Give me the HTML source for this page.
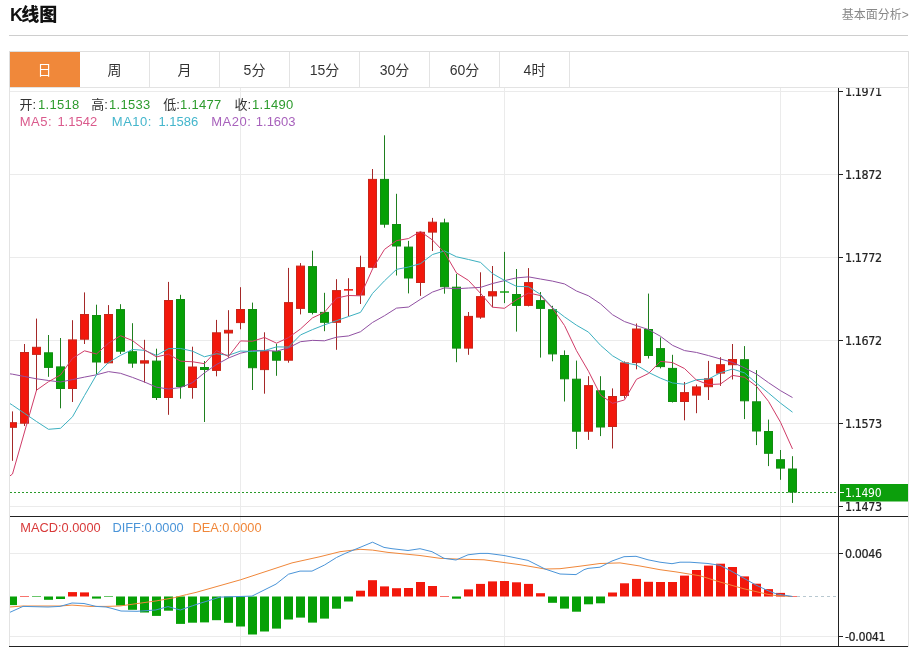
<!DOCTYPE html>
<html><head><meta charset="utf-8"><title>K线图</title>
<style>
*{margin:0;padding:0;box-sizing:border-box}
html,body{width:914px;height:647px;overflow:hidden;background:#fff}
body{position:relative;font-family:"Liberation Sans","Noto Sans CJK SC",sans-serif;color:#333}
.t{position:absolute;white-space:nowrap}
#title{left:10px;top:3px;font-size:18px;font-weight:900;color:#111;line-height:24px}
#more{right:5.2px;top:6px;font-size:12px;color:#888;line-height:18px}
#hr{position:absolute;left:9px;top:35px;width:899px;height:1px;background:#cecece}
#tabs{position:absolute;left:9px;top:51px;width:900px;height:37px;border:1px solid #dedede}
.tab{position:absolute;top:0;height:35px;width:70px;border-right:1px solid #e3e3e3;text-align:center;font-size:14px;line-height:37px;color:#333}
.tab.on{background:#f0883a;color:#fff;border-right-color:#f0883a}
#chart{position:absolute;left:9px;top:87px;width:900px;height:560px;border:1px solid #e3e3e3;border-bottom:none}
svg{position:absolute;left:0;top:0}
.info{position:absolute;font-size:13px;line-height:16px}
.k{color:#333} .v{color:#2d9b2d;letter-spacing:0.3px} .m{letter-spacing:0.5px}
</style></head><body>
<div class="t" id="title"><span style="margin-right:-1.8px">K</span>线图</div>
<div class="t" id="more">基本面分析&gt;</div>
<div id="hr"></div>
<div id="tabs">
<div class="tab on" style="left:0">日</div>
<div class="tab" style="left:70px">周</div>
<div class="tab" style="left:140px">月</div>
<div class="tab" style="left:210px">5分</div>
<div class="tab" style="left:280px">15分</div>
<div class="tab" style="left:350px">30分</div>
<div class="tab" style="left:420px">60分</div>
<div class="tab" style="left:490px">4时</div>
</div>
<div id="chart"></div>
<svg width="914" height="647" viewBox="0 0 914 647">
<g stroke="#ebebeb" stroke-width="1" fill="none">
<line x1="10" y1="91.5" x2="838" y2="91.5"/>
<line x1="10" y1="174.5" x2="838" y2="174.5"/>
<line x1="10" y1="257.5" x2="838" y2="257.5"/>
<line x1="10" y1="340.5" x2="838" y2="340.5"/>
<line x1="10" y1="423.5" x2="838" y2="423.5"/>
<line x1="10" y1="506.5" x2="838" y2="506.5"/>
<line x1="10" y1="553.5" x2="838" y2="553.5"/>
<line x1="10" y1="636.5" x2="838" y2="636.5"/>
<line x1="240.5" y1="88" x2="240.5" y2="646"/>
<line x1="504.5" y1="88" x2="504.5" y2="646"/>
<line x1="780.5" y1="88" x2="780.5" y2="646"/>
</g>
<clipPath id="cm"><rect x="10" y="88" width="828" height="428"/></clipPath>
<clipPath id="cd"><rect x="10" y="517" width="828" height="129"/></clipPath>
<g clip-path="url(#cm)">
<line x1="12.5" y1="411.4" x2="12.5" y2="460.8" stroke="#a42828" stroke-width="1"/>
<rect x="8.5" y="422.7" width="8" height="4.6" fill="#f2180c" stroke="#c8261a" stroke-width="1"/>
<line x1="24.5" y1="344" x2="24.5" y2="426" stroke="#a42828" stroke-width="1"/>
<rect x="20.5" y="352.5" width="8" height="70.7" fill="#f2180c" stroke="#c8261a" stroke-width="1"/>
<line x1="36.5" y1="318.6" x2="36.5" y2="391" stroke="#a42828" stroke-width="1"/>
<rect x="32.5" y="347.3" width="8" height="7.1" fill="#f2180c" stroke="#c8261a" stroke-width="1"/>
<line x1="48.5" y1="335" x2="48.5" y2="376.8" stroke="#1f7f1f" stroke-width="1"/>
<rect x="44.5" y="352.8" width="8" height="14.6" fill="#06a006" stroke="#128c12" stroke-width="1"/>
<line x1="60.5" y1="338" x2="60.5" y2="408.3" stroke="#1f7f1f" stroke-width="1"/>
<rect x="56.5" y="366.9" width="8" height="21.6" fill="#06a006" stroke="#128c12" stroke-width="1"/>
<line x1="72.5" y1="320.2" x2="72.5" y2="402" stroke="#a42828" stroke-width="1"/>
<rect x="68.5" y="339.9" width="8" height="48.6" fill="#f2180c" stroke="#c8261a" stroke-width="1"/>
<line x1="84.5" y1="292.4" x2="84.5" y2="344" stroke="#a42828" stroke-width="1"/>
<rect x="80.5" y="314.5" width="8" height="24.7" fill="#f2180c" stroke="#c8261a" stroke-width="1"/>
<line x1="96.5" y1="304.7" x2="96.5" y2="374.3" stroke="#1f7f1f" stroke-width="1"/>
<rect x="92.5" y="315.5" width="8" height="46.5" fill="#06a006" stroke="#128c12" stroke-width="1"/>
<line x1="108.5" y1="305.1" x2="108.5" y2="363.3" stroke="#a42828" stroke-width="1"/>
<rect x="104.5" y="314.5" width="8" height="48.3" fill="#f2180c" stroke="#c8261a" stroke-width="1"/>
<line x1="120.5" y1="304.2" x2="120.5" y2="354" stroke="#1f7f1f" stroke-width="1"/>
<rect x="116.5" y="309.6" width="8" height="41.6" fill="#06a006" stroke="#128c12" stroke-width="1"/>
<line x1="132.5" y1="323.2" x2="132.5" y2="367.8" stroke="#1f7f1f" stroke-width="1"/>
<rect x="128.5" y="351.7" width="8" height="11.4" fill="#06a006" stroke="#128c12" stroke-width="1"/>
<line x1="144.5" y1="339.8" x2="144.5" y2="382.6" stroke="#a42828" stroke-width="1"/>
<rect x="140.5" y="360.8" width="8" height="2.3" fill="#f2180c" stroke="#c8261a" stroke-width="1"/>
<line x1="156.5" y1="348.7" x2="156.5" y2="400" stroke="#1f7f1f" stroke-width="1"/>
<rect x="152.5" y="361.1" width="8" height="36.4" fill="#06a006" stroke="#128c12" stroke-width="1"/>
<line x1="168.5" y1="281.9" x2="168.5" y2="414.8" stroke="#a42828" stroke-width="1"/>
<rect x="164.5" y="300.5" width="8" height="97" fill="#f2180c" stroke="#c8261a" stroke-width="1"/>
<line x1="180.5" y1="294.8" x2="180.5" y2="398.7" stroke="#1f7f1f" stroke-width="1"/>
<rect x="176.5" y="299.5" width="8" height="87" fill="#06a006" stroke="#128c12" stroke-width="1"/>
<line x1="192.5" y1="346.7" x2="192.5" y2="398.7" stroke="#a42828" stroke-width="1"/>
<rect x="188.5" y="367" width="8" height="20.5" fill="#f2180c" stroke="#c8261a" stroke-width="1"/>
<line x1="204.5" y1="361" x2="204.5" y2="422" stroke="#1f7f1f" stroke-width="1"/>
<rect x="200.5" y="367.5" width="8" height="2" fill="#06a006" stroke="#128c12" stroke-width="1"/>
<line x1="216.5" y1="319.9" x2="216.5" y2="376.3" stroke="#a42828" stroke-width="1"/>
<rect x="212.5" y="332.8" width="8" height="37.6" fill="#f2180c" stroke="#c8261a" stroke-width="1"/>
<line x1="228.5" y1="310.2" x2="228.5" y2="357.8" stroke="#a42828" stroke-width="1"/>
<rect x="224.5" y="330.3" width="8" height="2.7" fill="#f2180c" stroke="#c8261a" stroke-width="1"/>
<line x1="240.5" y1="287.2" x2="240.5" y2="329.3" stroke="#a42828" stroke-width="1"/>
<rect x="236.5" y="309.5" width="8" height="13.1" fill="#f2180c" stroke="#c8261a" stroke-width="1"/>
<line x1="252.5" y1="302.6" x2="252.5" y2="390" stroke="#1f7f1f" stroke-width="1"/>
<rect x="248.5" y="309.5" width="8" height="58.2" fill="#06a006" stroke="#128c12" stroke-width="1"/>
<line x1="264.5" y1="332.3" x2="264.5" y2="393.7" stroke="#a42828" stroke-width="1"/>
<rect x="260.5" y="351.6" width="8" height="18" fill="#f2180c" stroke="#c8261a" stroke-width="1"/>
<line x1="276.5" y1="343.7" x2="276.5" y2="375.8" stroke="#1f7f1f" stroke-width="1"/>
<rect x="272.5" y="351.6" width="8" height="8.6" fill="#06a006" stroke="#128c12" stroke-width="1"/>
<line x1="288.5" y1="267.9" x2="288.5" y2="362.7" stroke="#a42828" stroke-width="1"/>
<rect x="284.5" y="302.6" width="8" height="57.6" fill="#f2180c" stroke="#c8261a" stroke-width="1"/>
<line x1="300.5" y1="263.1" x2="300.5" y2="314.4" stroke="#a42828" stroke-width="1"/>
<rect x="296.5" y="266.1" width="8" height="42.3" fill="#f2180c" stroke="#c8261a" stroke-width="1"/>
<line x1="312.5" y1="250.7" x2="312.5" y2="314.4" stroke="#1f7f1f" stroke-width="1"/>
<rect x="308.5" y="266.6" width="8" height="45.8" fill="#06a006" stroke="#128c12" stroke-width="1"/>
<line x1="324.5" y1="292.8" x2="324.5" y2="331.2" stroke="#1f7f1f" stroke-width="1"/>
<rect x="320.5" y="312.4" width="8" height="9.9" fill="#06a006" stroke="#128c12" stroke-width="1"/>
<line x1="336.5" y1="279.2" x2="336.5" y2="349.8" stroke="#a42828" stroke-width="1"/>
<rect x="332.5" y="290.6" width="8" height="31.7" fill="#f2180c" stroke="#c8261a" stroke-width="1"/>
<line x1="348.5" y1="278.2" x2="348.5" y2="316.3" stroke="#a42828" stroke-width="1"/>
<rect x="344" y="289.1" width="9" height="1.5" fill="#f2180c"/>
<line x1="360.5" y1="255.7" x2="360.5" y2="304" stroke="#a42828" stroke-width="1"/>
<rect x="356.5" y="267.6" width="8" height="27.4" fill="#f2180c" stroke="#c8261a" stroke-width="1"/>
<line x1="372.5" y1="169" x2="372.5" y2="267.8" stroke="#a42828" stroke-width="1"/>
<rect x="368.5" y="179.4" width="8" height="87.9" fill="#f2180c" stroke="#c8261a" stroke-width="1"/>
<line x1="384.5" y1="135.3" x2="384.5" y2="227.7" stroke="#1f7f1f" stroke-width="1"/>
<rect x="380.5" y="179.4" width="8" height="44.8" fill="#06a006" stroke="#128c12" stroke-width="1"/>
<line x1="396.5" y1="193.8" x2="396.5" y2="275.5" stroke="#1f7f1f" stroke-width="1"/>
<rect x="392.5" y="224.5" width="8" height="21.5" fill="#06a006" stroke="#128c12" stroke-width="1"/>
<line x1="408.5" y1="240.9" x2="408.5" y2="293.4" stroke="#1f7f1f" stroke-width="1"/>
<rect x="404.5" y="247.1" width="8" height="30.9" fill="#06a006" stroke="#128c12" stroke-width="1"/>
<line x1="420.5" y1="231.8" x2="420.5" y2="295.9" stroke="#a42828" stroke-width="1"/>
<rect x="416.5" y="232.3" width="8" height="50.2" fill="#f2180c" stroke="#c8261a" stroke-width="1"/>
<line x1="432.5" y1="217.9" x2="432.5" y2="251" stroke="#a42828" stroke-width="1"/>
<rect x="428.5" y="222.2" width="8" height="9.9" fill="#f2180c" stroke="#c8261a" stroke-width="1"/>
<line x1="444.5" y1="218.7" x2="444.5" y2="293.7" stroke="#1f7f1f" stroke-width="1"/>
<rect x="440.5" y="222.9" width="8" height="63.8" fill="#06a006" stroke="#128c12" stroke-width="1"/>
<line x1="456.5" y1="273.9" x2="456.5" y2="362.2" stroke="#1f7f1f" stroke-width="1"/>
<rect x="452.5" y="287.2" width="8" height="60.9" fill="#06a006" stroke="#128c12" stroke-width="1"/>
<line x1="468.5" y1="312" x2="468.5" y2="354.8" stroke="#a42828" stroke-width="1"/>
<rect x="464.5" y="316.4" width="8" height="31.7" fill="#f2180c" stroke="#c8261a" stroke-width="1"/>
<line x1="480.5" y1="272.3" x2="480.5" y2="318.8" stroke="#a42828" stroke-width="1"/>
<rect x="476.5" y="296.6" width="8" height="20.5" fill="#f2180c" stroke="#c8261a" stroke-width="1"/>
<line x1="492.5" y1="266" x2="492.5" y2="307.3" stroke="#a42828" stroke-width="1"/>
<rect x="488.5" y="291.7" width="8" height="4.2" fill="#f2180c" stroke="#c8261a" stroke-width="1"/>
<line x1="504.5" y1="251.9" x2="504.5" y2="303.1" stroke="#1f7f1f" stroke-width="1"/>
<rect x="500" y="291.3" width="9" height="1.4" fill="#06a006"/>
<line x1="516.5" y1="269" x2="516.5" y2="331.6" stroke="#1f7f1f" stroke-width="1"/>
<rect x="512.5" y="294.5" width="8" height="10.9" fill="#06a006" stroke="#128c12" stroke-width="1"/>
<line x1="528.5" y1="268.1" x2="528.5" y2="306.4" stroke="#a42828" stroke-width="1"/>
<rect x="524.5" y="282.6" width="8" height="22.8" fill="#f2180c" stroke="#c8261a" stroke-width="1"/>
<line x1="540.5" y1="292" x2="540.5" y2="357.6" stroke="#1f7f1f" stroke-width="1"/>
<rect x="536.5" y="300.6" width="8" height="7.8" fill="#06a006" stroke="#128c12" stroke-width="1"/>
<line x1="552.5" y1="305.8" x2="552.5" y2="361.3" stroke="#1f7f1f" stroke-width="1"/>
<rect x="548.5" y="309.7" width="8" height="44.2" fill="#06a006" stroke="#128c12" stroke-width="1"/>
<line x1="564.5" y1="350.4" x2="564.5" y2="401.5" stroke="#1f7f1f" stroke-width="1"/>
<rect x="560.5" y="355.5" width="8" height="23.3" fill="#06a006" stroke="#128c12" stroke-width="1"/>
<line x1="576.5" y1="360.6" x2="576.5" y2="449" stroke="#1f7f1f" stroke-width="1"/>
<rect x="572.5" y="379.2" width="8" height="52" fill="#06a006" stroke="#128c12" stroke-width="1"/>
<line x1="588.5" y1="376.2" x2="588.5" y2="439.9" stroke="#a42828" stroke-width="1"/>
<rect x="584.5" y="385.6" width="8" height="45.6" fill="#f2180c" stroke="#c8261a" stroke-width="1"/>
<line x1="600.5" y1="376.2" x2="600.5" y2="436.1" stroke="#1f7f1f" stroke-width="1"/>
<rect x="596.5" y="390.8" width="8" height="36.2" fill="#06a006" stroke="#128c12" stroke-width="1"/>
<line x1="612.5" y1="388.4" x2="612.5" y2="448.5" stroke="#a42828" stroke-width="1"/>
<rect x="608.5" y="396.5" width="8" height="30" fill="#f2180c" stroke="#c8261a" stroke-width="1"/>
<line x1="624.5" y1="361.4" x2="624.5" y2="398.5" stroke="#a42828" stroke-width="1"/>
<rect x="620.5" y="362.9" width="8" height="32.6" fill="#f2180c" stroke="#c8261a" stroke-width="1"/>
<line x1="636.5" y1="323.5" x2="636.5" y2="369.3" stroke="#a42828" stroke-width="1"/>
<rect x="632.5" y="329" width="8" height="33.6" fill="#f2180c" stroke="#c8261a" stroke-width="1"/>
<line x1="648.5" y1="293.6" x2="648.5" y2="358.5" stroke="#1f7f1f" stroke-width="1"/>
<rect x="644.5" y="329.5" width="8" height="26" fill="#06a006" stroke="#128c12" stroke-width="1"/>
<line x1="660.5" y1="337.4" x2="660.5" y2="368.4" stroke="#1f7f1f" stroke-width="1"/>
<rect x="656.5" y="348.6" width="8" height="18" fill="#06a006" stroke="#128c12" stroke-width="1"/>
<line x1="672.5" y1="354.8" x2="672.5" y2="402.5" stroke="#1f7f1f" stroke-width="1"/>
<rect x="668.5" y="368.4" width="8" height="33.1" fill="#06a006" stroke="#128c12" stroke-width="1"/>
<line x1="684.5" y1="382" x2="684.5" y2="420.3" stroke="#a42828" stroke-width="1"/>
<rect x="680.5" y="392.6" width="8" height="8.9" fill="#f2180c" stroke="#c8261a" stroke-width="1"/>
<line x1="696.5" y1="384.5" x2="696.5" y2="413.2" stroke="#a42828" stroke-width="1"/>
<rect x="692.5" y="386.9" width="8" height="8.2" fill="#f2180c" stroke="#c8261a" stroke-width="1"/>
<line x1="708.5" y1="360.9" x2="708.5" y2="400" stroke="#a42828" stroke-width="1"/>
<rect x="704.5" y="378.8" width="8" height="7.9" fill="#f2180c" stroke="#c8261a" stroke-width="1"/>
<line x1="720.5" y1="357.2" x2="720.5" y2="385.9" stroke="#a42828" stroke-width="1"/>
<rect x="716.5" y="364.7" width="8" height="8.4" fill="#f2180c" stroke="#c8261a" stroke-width="1"/>
<line x1="732.5" y1="344" x2="732.5" y2="379.5" stroke="#a42828" stroke-width="1"/>
<rect x="728.5" y="359.5" width="8" height="5.2" fill="#f2180c" stroke="#c8261a" stroke-width="1"/>
<line x1="744.5" y1="346.1" x2="744.5" y2="419.1" stroke="#1f7f1f" stroke-width="1"/>
<rect x="740.5" y="359.7" width="8" height="41.1" fill="#06a006" stroke="#128c12" stroke-width="1"/>
<line x1="756.5" y1="370.1" x2="756.5" y2="445.1" stroke="#1f7f1f" stroke-width="1"/>
<rect x="752.5" y="401.8" width="8" height="29.2" fill="#06a006" stroke="#128c12" stroke-width="1"/>
<line x1="768.5" y1="419.6" x2="768.5" y2="466.1" stroke="#1f7f1f" stroke-width="1"/>
<rect x="764.5" y="431.5" width="8" height="21.8" fill="#06a006" stroke="#128c12" stroke-width="1"/>
<line x1="780.5" y1="450" x2="780.5" y2="479.8" stroke="#1f7f1f" stroke-width="1"/>
<rect x="776.5" y="459.7" width="8" height="8.4" fill="#06a006" stroke="#128c12" stroke-width="1"/>
<line x1="792.5" y1="456.2" x2="792.5" y2="502.9" stroke="#1f7f1f" stroke-width="1"/>
<rect x="788.5" y="469" width="8" height="23" fill="#06a006" stroke="#128c12" stroke-width="1"/>
<polyline points="0.5,372.5 12.5,374.2 24.5,376.5 36.5,378.8 48.5,380.5 60.5,382 72.5,379.6 84.5,377.1 96.5,374.8 108.5,371.6 120.5,373.3 132.5,377.4 144.5,382 156.5,387.2 168.5,389 180.5,387.6 192.5,382.6 204.5,372.8 216.5,364.5 228.5,358 240.5,353.2 252.5,350.5 264.5,350.45 276.5,351.15 288.5,347.86 300.5,341.69 312.5,340.37 324.5,340.81 336.5,337.18 348.5,335.94 360.5,331.71 372.5,322.47 384.5,315.69 396.5,308.12 408.5,307.05 420.5,299.28 432.5,292.05 444.5,287.9 456.5,288.72 468.5,288.02 480.5,287.38 492.5,283.53 504.5,280.61 516.5,277.87 528.5,276.87 540.5,279.03 552.5,281.11 564.5,283.93 576.5,291.01 588.5,295.81 600.5,303.83 612.5,314.69 624.5,321.57 636.5,325.67 648.5,329.55 660.5,336.31 672.5,345.33 684.5,350.57 696.5,352.46 708.5,355.58 720.5,358.99 732.5,362.38 744.5,367.81 756.5,374.09 768.5,382.67 780.5,390.66 792.5,397.56" fill="none" stroke="#9050a2" stroke-width="1" stroke-linejoin="round"/>
<polyline points="0.5,397.5 12.5,405.2 24.5,413.3 36.5,421.5 48.5,429.3 60.5,428.3 72.5,416.8 84.5,395.5 96.5,374.8 108.5,362.5 120.5,355.35 132.5,349.49 144.5,350.32 156.5,355.44 168.5,348.65 180.5,348.45 192.5,351.16 204.5,356.76 216.5,353.74 228.5,355.32 240.5,351.05 252.5,351.51 264.5,350.59 276.5,346.86 288.5,347.07 300.5,334.93 312.5,329.57 324.5,324.85 336.5,320.63 348.5,316.56 360.5,312.37 372.5,293.44 384.5,280.8 396.5,269.38 408.5,267.02 420.5,263.64 432.5,254.52 444.5,250.96 456.5,256.81 468.5,259.49 480.5,262.39 492.5,273.62 504.5,280.42 516.5,286.36 528.5,286.72 540.5,294.43 552.5,307.7 564.5,316.91 576.5,325.22 588.5,332.14 600.5,345.28 612.5,355.76 624.5,362.73 636.5,364.99 648.5,372.38 660.5,378.2 672.5,382.96 684.5,384.24 696.5,379.71 708.5,379.03 720.5,372.7 732.5,369 744.5,372.89 756.5,383.19 768.5,392.97 780.5,403.12 792.5,412.17" fill="none" stroke="#3cb0c0" stroke-width="1" stroke-linejoin="round"/>
<polyline points="0.5,483 12.5,474 24.5,432 36.5,390.2 48.5,381.7 60.5,374.98 72.5,358.42 84.5,350.82 96.5,353.96 108.5,343.18 120.5,335.72 132.5,340.56 144.5,349.82 156.5,356.92 168.5,354.12 180.5,361.18 192.5,361.76 204.5,363.7 216.5,350.56 228.5,356.52 240.5,340.92 252.5,341.26 264.5,337.48 276.5,343.16 288.5,337.62 300.5,328.94 312.5,317.88 324.5,312.22 336.5,298.1 348.5,295.5 360.5,295.8 372.5,269 384.5,249.38 396.5,240.66 408.5,238.54 420.5,231.48 432.5,240.04 444.5,252.54 456.5,272.96 468.5,280.44 480.5,293.3 492.5,307.2 504.5,308.3 516.5,299.76 528.5,293 540.5,295.56 552.5,308.2 564.5,325.52 576.5,350.68 588.5,371.28 600.5,395 612.5,403.32 624.5,399.94 636.5,379.3 648.5,373.48 660.5,361.4 672.5,362.6 684.5,368.54 696.5,380.12 708.5,384.58 720.5,384 732.5,375.4 744.5,377.24 756.5,386.26 768.5,401.36 780.5,422.24 792.5,448.94" fill="none" stroke="#d03c68" stroke-width="1" stroke-linejoin="round"/>
<line x1="10" y1="492.5" x2="838" y2="492.5" stroke="#2a9a2a" stroke-width="1" stroke-dasharray="2,2"/>
</g>
<g clip-path="url(#cd)">
<line x1="797" y1="596.5" x2="838" y2="596.5" stroke="#b8c8d0" stroke-width="1" stroke-dasharray="3,3"/>
<rect x="8" y="596.5" width="9" height="8.6" fill="#06a006"/>
<rect x="20" y="596.0" width="9" height="1" fill="#f2180c" fill-opacity="0.6"/>
<rect x="32" y="596.0" width="9" height="1" fill="#06a006" fill-opacity="0.6"/>
<rect x="44" y="596.5" width="9" height="3.3" fill="#06a006"/>
<rect x="56" y="596.5" width="9" height="2.5" fill="#06a006"/>
<rect x="68" y="592.1" width="9" height="4.4" fill="#f2180c"/>
<rect x="80" y="592.4" width="9" height="4.1" fill="#f2180c"/>
<rect x="92" y="596.5" width="9" height="2.1" fill="#06a006"/>
<rect x="104" y="596.0" width="9" height="1" fill="#06a006" fill-opacity="0.6"/>
<rect x="116" y="596.5" width="9" height="9" fill="#06a006"/>
<rect x="128" y="596.5" width="9" height="13.3" fill="#06a006"/>
<rect x="140" y="596.5" width="9" height="16" fill="#06a006"/>
<rect x="152" y="596.5" width="9" height="19.4" fill="#06a006"/>
<rect x="164" y="596.5" width="9" height="14.2" fill="#06a006"/>
<rect x="176" y="596.5" width="9" height="27.4" fill="#06a006"/>
<rect x="188" y="596.5" width="9" height="26.2" fill="#06a006"/>
<rect x="200" y="596.5" width="9" height="25.9" fill="#06a006"/>
<rect x="212" y="596.5" width="9" height="23.7" fill="#06a006"/>
<rect x="224" y="596.5" width="9" height="26.3" fill="#06a006"/>
<rect x="236" y="596.5" width="9" height="30" fill="#06a006"/>
<rect x="248" y="596.5" width="9" height="38" fill="#06a006"/>
<rect x="260" y="596.5" width="9" height="35" fill="#06a006"/>
<rect x="272" y="596.5" width="9" height="32.1" fill="#06a006"/>
<rect x="284" y="596.5" width="9" height="23" fill="#06a006"/>
<rect x="296" y="596.5" width="9" height="21.1" fill="#06a006"/>
<rect x="308" y="596.5" width="9" height="26.1" fill="#06a006"/>
<rect x="320" y="596.5" width="9" height="22.1" fill="#06a006"/>
<rect x="332" y="596.5" width="9" height="12.2" fill="#06a006"/>
<rect x="344" y="596.5" width="9" height="5" fill="#06a006"/>
<rect x="356" y="590.7" width="9" height="5.8" fill="#f2180c"/>
<rect x="368" y="580.2" width="9" height="16.3" fill="#f2180c"/>
<rect x="380" y="586.4" width="9" height="10.1" fill="#f2180c"/>
<rect x="392" y="588.2" width="9" height="8.3" fill="#f2180c"/>
<rect x="404" y="588" width="9" height="8.5" fill="#f2180c"/>
<rect x="416" y="582" width="9" height="14.5" fill="#f2180c"/>
<rect x="428" y="586" width="9" height="10.5" fill="#f2180c"/>
<rect x="440" y="596.0" width="9" height="1" fill="#f2180c" fill-opacity="0.6"/>
<rect x="452" y="596.5" width="9" height="2.2" fill="#06a006"/>
<rect x="464" y="589.4" width="9" height="7.1" fill="#f2180c"/>
<rect x="476" y="583.9" width="9" height="12.6" fill="#f2180c"/>
<rect x="488" y="581.4" width="9" height="15.1" fill="#f2180c"/>
<rect x="500" y="581" width="9" height="15.5" fill="#f2180c"/>
<rect x="512" y="582.3" width="9" height="14.2" fill="#f2180c"/>
<rect x="524" y="583.9" width="9" height="12.6" fill="#f2180c"/>
<rect x="536" y="593.2" width="9" height="3.3" fill="#f2180c"/>
<rect x="548" y="596.5" width="9" height="6.3" fill="#06a006"/>
<rect x="560" y="596.5" width="9" height="12.1" fill="#06a006"/>
<rect x="572" y="596.5" width="9" height="15.2" fill="#06a006"/>
<rect x="584" y="596.5" width="9" height="7.8" fill="#06a006"/>
<rect x="596" y="596.5" width="9" height="6.8" fill="#06a006"/>
<rect x="608" y="592.5" width="9" height="4" fill="#f2180c"/>
<rect x="620" y="583.3" width="9" height="13.2" fill="#f2180c"/>
<rect x="632" y="578.9" width="9" height="17.6" fill="#f2180c"/>
<rect x="644" y="581.8" width="9" height="14.7" fill="#f2180c"/>
<rect x="656" y="582" width="9" height="14.5" fill="#f2180c"/>
<rect x="668" y="582" width="9" height="14.5" fill="#f2180c"/>
<rect x="680" y="575.6" width="9" height="20.9" fill="#f2180c"/>
<rect x="692" y="570" width="9" height="26.5" fill="#f2180c"/>
<rect x="704" y="565.6" width="9" height="30.9" fill="#f2180c"/>
<rect x="716" y="563.7" width="9" height="32.8" fill="#f2180c"/>
<rect x="728" y="567" width="9" height="29.5" fill="#f2180c"/>
<rect x="740" y="576.4" width="9" height="20.1" fill="#f2180c"/>
<rect x="752" y="583.7" width="9" height="12.8" fill="#f2180c"/>
<rect x="764" y="589.1" width="9" height="7.4" fill="#f2180c"/>
<rect x="776" y="592.9" width="9" height="3.6" fill="#f2180c"/>
<rect x="788" y="596.0" width="9" height="1" fill="#f2180c" fill-opacity="0.6"/>
<polyline points="0.5,607.2 9.5,607 23,606 60,606 72,605.1 90,606.4 106,606.4 119.8,606 137,603.6 156.9,600.8 174.2,597.7 186.5,594.6 196,592.4 240.5,579.8 292,562.9 320,556.7 340,551.7 360,549.3 372.5,550.1 388,552.4 420,555.5 440,558.3 460,559.2 484,559.8 520,564.7 545,569 560,568.7 580,566.2 600,563.5 620,562.9 640,566 660,569.7 676,571.9 700,575.8 720,582 744,588.8 768,594.4 776,595.6 792.5,596.5" fill="none" stroke="#f0873a" stroke-width="1" stroke-linejoin="round"/>
<polyline points="0.5,614 9.5,612.5 23,606.4 48,607 60,606.4 72,603 84,603.5 96,606.4 106,607 111,608.2 121,611 137,611.3 155.6,610 168,606.6 180.3,610 192.7,605.7 200,603.3 220,597.1 252,596.1 276,584.1 288.5,574.2 300,571.1 312,571.1 324.5,565 336.5,557.5 345,553.5 360,547.4 372.5,542.2 384,547.4 392,548.7 408,550.5 420,548.7 432,551.7 444,558.3 456,560 468,554.8 480,553.4 488,553.4 504,555.5 528,560.4 545,569 560,574 576,574.6 584,569.7 588,568.4 600,567.2 612,561 624,556.7 636,556.3 648,559.8 660,562.2 672,563.7 680,562.2 690,562.2 708,563.5 720,565.3 732,571.5 744,578.3 756,585.1 768,590.7 776,593.8 792.5,596.5" fill="none" stroke="#4a94d8" stroke-width="1" stroke-linejoin="round"/>
</g>
<line x1="838.5" y1="88" x2="838.5" y2="646" stroke="#222" stroke-width="1"/>
<line x1="10" y1="516.5" x2="908" y2="516.5" stroke="#222" stroke-width="1"/>
<line x1="9" y1="646.5" x2="908" y2="646.5" stroke="#222" stroke-width="1"/>
<clipPath id="ca"><rect x="830" y="88" width="84" height="559"/></clipPath>
<g fill="#222" font-family="DejaVu Sans Condensed, DejaVu Sans, sans-serif" font-size="12.4" letter-spacing="-0.4" stroke="#222" stroke-width="0.2" clip-path="url(#ca)">
<line x1="838" y1="91.5" x2="843" y2="91.5" stroke="#222" stroke-width="1"/>
<text x="845" y="95.5">1.1971</text>
<line x1="838" y1="174.5" x2="843" y2="174.5" stroke="#222" stroke-width="1"/>
<text x="845" y="178.5">1.1872</text>
<line x1="838" y1="257.5" x2="843" y2="257.5" stroke="#222" stroke-width="1"/>
<text x="845" y="261.5">1.1772</text>
<line x1="838" y1="340.5" x2="843" y2="340.5" stroke="#222" stroke-width="1"/>
<text x="845" y="344.5">1.1672</text>
<line x1="838" y1="423.5" x2="843" y2="423.5" stroke="#222" stroke-width="1"/>
<text x="845" y="427.5">1.1573</text>
<line x1="838" y1="506.5" x2="843" y2="506.5" stroke="#222" stroke-width="1"/>
<text x="845" y="510.5">1.1473</text>
<line x1="838" y1="553.5" x2="843" y2="553.5" stroke="#222" stroke-width="1"/>
<text x="845" y="557.5">0.0046</text>
<line x1="838" y1="636.5" x2="843" y2="636.5" stroke="#222" stroke-width="1"/>
<text x="845" y="640.5">-0.0041</text>
</g>
<rect x="840" y="484" width="68" height="17.5" fill="#0c9f0c"/>
<line x1="840" y1="492.5" x2="844" y2="492.5" stroke="#fff" stroke-width="1"/>
<text x="845" y="496.7" fill="#fff" font-family="DejaVu Sans Condensed, DejaVu Sans, sans-serif" font-size="12" letter-spacing="-0.25">1.1490</text>
</svg>
<div class="info k" style="left:19.5px;top:97px">开:</div><div class="info v" style="left:38px;top:97px">1.1518</div>
<div class="info k" style="left:91.3px;top:97px">高:</div><div class="info v" style="left:109px;top:97px">1.1533</div>
<div class="info k" style="left:163.2px;top:97px">低:</div><div class="info v" style="left:180px;top:97px">1.1477</div>
<div class="info k" style="left:234.4px;top:97px">收:</div><div class="info v" style="left:252px;top:97px">1.1490</div>
<div class="info m" style="left:19.7px;top:114px;color:#da5a8c">MA5:</div><div class="info" style="left:57.4px;top:114px;color:#da5a8c">1.1542</div>
<div class="info m" style="left:111.8px;top:114px;color:#44b6cc">MA10:</div><div class="info" style="left:158.4px;top:114px;color:#44b6cc">1.1586</div>
<div class="info m" style="left:211.2px;top:114px;color:#a862bc">MA20:</div><div class="info" style="left:255.8px;top:114px;color:#a862bc">1.1603</div>
<div class="info" style="left:20.3px;top:520px;font-size:12.8px;color:#d83a3a">MACD:0.0000</div>
<div class="info" style="left:112.5px;top:520px;font-size:12.8px;color:#4a94d8">DIFF:0.0000</div>
<div class="info" style="left:192.5px;top:520px;font-size:12.8px;color:#f0873a">DEA:0.0000</div>
</body></html>
